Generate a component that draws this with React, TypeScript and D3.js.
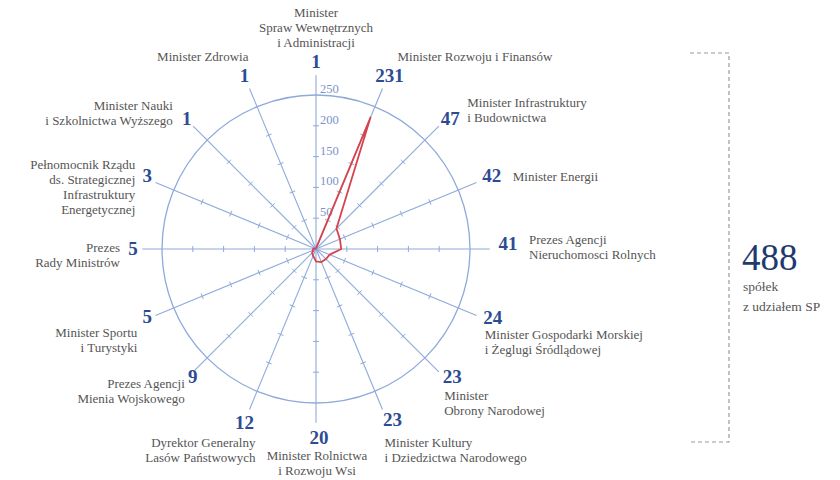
import * as d3 from "d3";
import React from "react";

const WIDTH = 840;
const HEIGHT = 480;
const CX = 316;
const CY = 249;

// data (clockwise from the top)
const categories = [
    "MSWiA",
    "MRiF",
    "MIiB",
    "ME",
    "ANR",
    "MGMiŻŚ",
    "MON",
    "MKiDN",
    "MRiRW",
    "LP",
    "AMW",
    "MSiT",
    "PRM",
    "PR SIE",
    "MNiSW",
    "MZ",
];
const companies = [1, 231, 47, 42, 41, 24, 23, 23, 20, 12, 9, 5, 5, 3, 1, 1];
const labelLines = [
    ["Minister", "Spraw Wewnętrznych", "i Administracji"],
    ["Minister Rozwoju i Finansów"],
    ["Minister Infrastruktury", "i Budownictwa"],
    ["Minister Energii"],
    ["Prezes Agencji", "Nieruchomosci Rolnych"],
    ["Minister Gospodarki Morskiej", "i Żeglugi Śródlądowej"],
    ["Minister", "Obrony Narodowej"],
    ["Minister Kultury", "i Dziedzictwa Narodowego"],
    ["Minister Rolnictwa", "i Rozwoju Wsi"],
    ["Dyrektor Generalny", "Lasów Państwowych"],
    ["Prezes Agencji", "Mienia Wojskowego"],
    ["Minister Sportu", "i Turystyki"],
    ["Prezes", "Rady Ministrów"],
    ["Pełnomocnik Rządu", "ds. Strategicznej", "Infrastruktury", "Energetycznej"],
    ["Minister Nauki", "i Szkolnictwa Wyższego"],
    ["Minister Zdrowia"],
];
const radialTicks = [50, 100, 150, 200, 250];
const total = 488;

// text placement around each spoke: number nudge, label anchor and offset
type Place = { n: [number, number]; a: "start" | "middle" | "end"; l: [number, number] };
const placement: Place[] = [
    { n: [0, -1], a: "middle", l: [0, -45] },
    { n: [2, -1], a: "start", l: [10, -15] },
    { n: [2, 2], a: "start", l: [19, -10] },
    { n: [3, -2], a: "start", l: [24, 4] },
    { n: [5, -6], a: "start", l: [26, -5] },
    { n: [4, -3], a: "start", l: [-4, 18] },
    { n: [4, -5], a: "start", l: [-4, 19] },
    { n: [5, -2], a: "start", l: [-3, 25] },
    { n: [3, 1], a: "middle", l: [1, 24] },
    { n: [0, 1], a: "end", l: [11, 25] },
    { n: [9, -5], a: "end", l: [1, 7] },
    { n: [4, -4], a: "end", l: [-6, 16] },
    { n: [4, -1], a: "end", l: [-9, 3] },
    { n: [4, -2], a: "end", l: [-8, -8] },
    { n: [3, 2], a: "end", l: [-11, -7] },
    { n: [0, -1], a: "end", l: [4, -15] },
];

const GRID = "#8eaadb";
const RED = "#d8424c";
const NUM = "#2d4b93";
const LABEL = "#555555";
const SERIF = "'Liberation Serif', serif";

const App: React.FC = () => {
    const angle = d3
        .scaleBand<string>()
        .domain(categories)
        .range([0, 2 * Math.PI])
        .paddingInner(0)
        .paddingOuter(0);
    const r = d3.scaleLinear().domain([0, 250]).range([0, 154]);
    const spokeEnd = r(282);
    const numR = 187;

    const pt = (a: number, rad: number): [number, number] => [
        rad * Math.sin(a),
        -rad * Math.cos(a),
    ];

    const line = d3
        .lineRadial<number>()
        .angle((_, i) => angle(categories[i]) as number)
        .radius((d) => r(d))
        .curve(d3.curveLinearClosed);
    const path = line(companies) || "";

    return (
        <svg
            width={WIDTH}
            height={HEIGHT}
            style={{ position: "absolute", left: 0, top: 0, background: "#fff" }}
        >
            <g transform={`translate(${CX},${CY})`}>
                {/* spokes and ticks */}
                {categories.map((c, i) => {
                    const a = angle(c) as number;
                    const [x2, y2] = pt(a, spokeEnd);
                    return (
                        <g key={c}>
                            <line x1={0} y1={0} x2={x2} y2={y2} stroke={GRID} strokeWidth={1.1} />
                            {radialTicks.slice(0, 4).map((t) => {
                                const [tx, ty] = pt(a, r(t));
                                const [px, py] = pt(a + Math.PI / 2, 3);
                                return (
                                    <line
                                        key={t}
                                        x1={tx - px}
                                        y1={ty - py}
                                        x2={tx + px}
                                        y2={ty + py}
                                        stroke={GRID}
                                        strokeWidth={1}
                                    />
                                );
                            })}
                        </g>
                    );
                })}
                <circle r={r(250)} fill="none" stroke={GRID} strokeWidth={1.3} />
                {radialTicks.map((t) => (
                    <text
                        key={t}
                        x={4}
                        y={-r(t) - 2}
                        fontFamily={SERIF}
                        fontSize={12.5}
                        fill="#7d93c9"
                    >
                        {t}
                    </text>
                ))}
                <path d={path} fill="none" stroke={RED} strokeWidth={1.8} strokeLinejoin="round" />

                {/* values and names */}
                {categories.map((c, i) => {
                    const a = angle(c) as number;
                    const [nx, ny] = pt(a, numR);
                    const p = placement[i];
                    return (
                        <g key={c}>
                            <text
                                x={nx + p.n[0]}
                                y={ny + p.n[1]}
                                dy="0.35em"
                                textAnchor="middle"
                                fontFamily={SERIF}
                                fontWeight="bold"
                                fontSize={19}
                                fill={NUM}
                            >
                                {companies[i]}
                            </text>
                            <text
                                textAnchor={p.a}
                                fontFamily={SERIF}
                                fontSize={13}
                                fill={LABEL}
                            >
                                {labelLines[i].map((s, k) => (
                                    <tspan key={k} x={nx + p.l[0]} y={ny + p.l[1] + k * 15}>
                                        {s}
                                    </tspan>
                                ))}
                            </text>
                        </g>
                    );
                })}
            </g>

            {/* bracket and total */}
            <path
                d="M690,53H729V442H690"
                fill="none"
                stroke="#9a9a9a"
                strokeWidth={1.2}
                strokeDasharray="4,3"
            />
            <text x={742} y={270} fontFamily={SERIF} fontSize={37} fill="#1f3a6e">
                {total}
            </text>
            <text fontFamily={SERIF} fontSize={13.5} fill={LABEL}>
                <tspan x={743} y={291}>spółek</tspan>
                <tspan x={743} y={311}>z udziałem SP</tspan>
            </text>
        </svg>
    );
};

export default App;
